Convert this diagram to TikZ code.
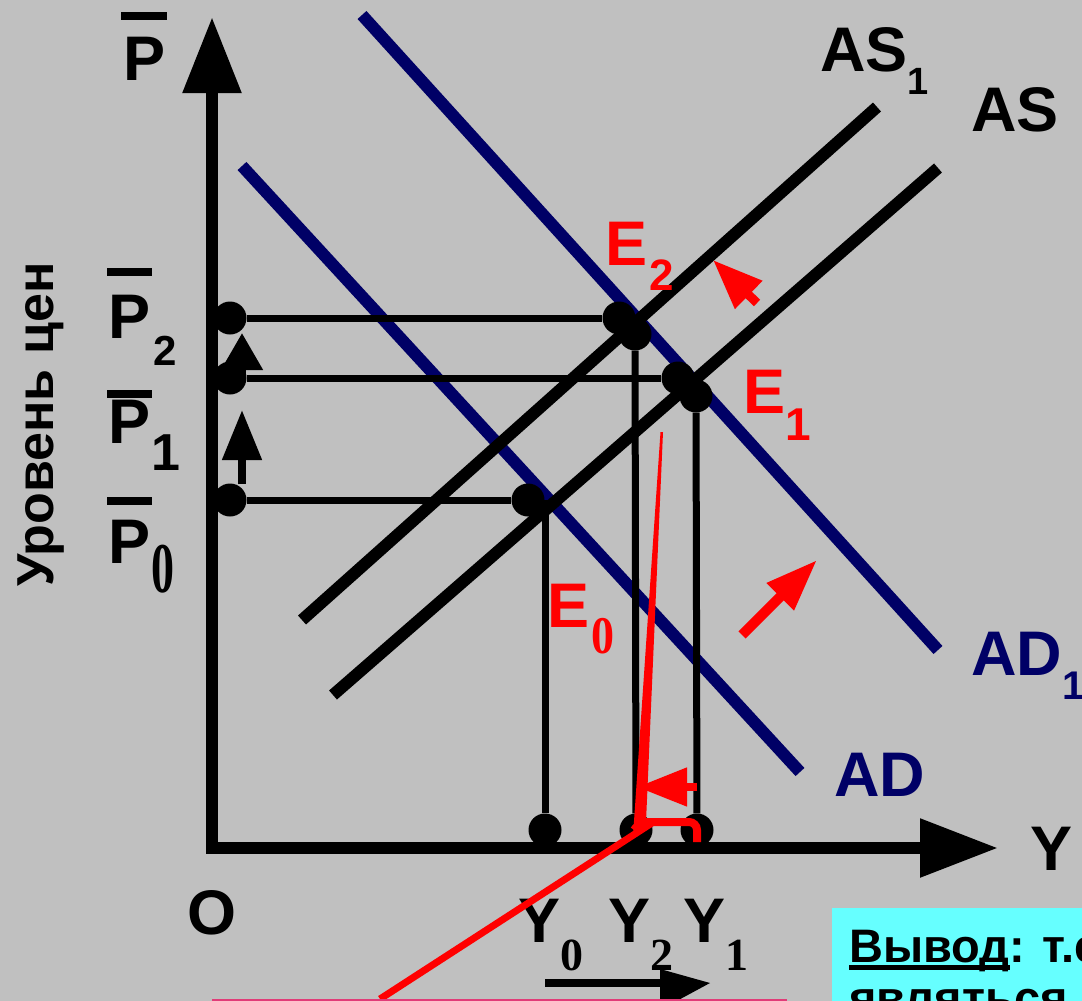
\documentclass[tikz,border=0pt]{standalone}
\usepackage{fontspec}
\setmainfont{Liberation Sans}
\newfontfamily\timesf{Liberation Serif}
\usetikzlibrary{arrows.meta}
\definecolor{bg}{RGB}{192,192,192}
\definecolor{navy}{RGB}{0,0,102}
\definecolor{cyanbox}{RGB}{102,255,255}
\definecolor{pinkline}{RGB}{225,60,120}
% индексы: sans и serif
\newcommand{\sidx}[3][26]{\raisebox{-#1pt}{\fontsize{#2}{#2}\selectfont #3}}
\newcommand{\tidx}[3][1]{\raisebox{-#2pt}{\scalebox{1}[#1]{\timesf\bfseries\fontsize{46}{46}\selectfont #3}}}

\begin{document}
\begin{tikzpicture}[x=1pt,y=-1pt,
  axis/.style={line width=12pt},
  curve/.style={line width=12pt},
  guide/.style={line width=7pt},
  dot/.style={circle,fill=black,inner sep=0pt,minimum size=33pt},
  lbl/.style={inner sep=0pt,anchor=base west,font=\bfseries\fontsize{63}{63}\selectfont},
  boxtxt/.style={inner sep=0pt,anchor=base west,font=\bfseries\fontsize{47}{47}\selectfont},
  redarr/.style={red,line width=9pt,-{Triangle[length=50pt,width=37pt]}},
  pbar/.style={line width=8pt}]
  \useasboundingbox (0,0) rectangle (1082,1001);
  \clip (0,0) rectangle (1082,1001);
  \fill[bg] (0,0) rectangle (1082,1001);

  % вывод (обрезан)
  \fill[cyanbox] (832,908) rectangle (1090,1010);
  \node[boxtxt] (vyvod) at (849,962) {Вывод};
  \node[boxtxt] (vyvodr) at (vyvod.base east) {: т.е.};
  \draw[line width=5pt] ([yshift=-5pt]vyvod.base west) -- ([yshift=-5pt]vyvod.base east);
  \node[boxtxt] (yavl) at (849,1014) {являться};

  % AD и AD1
  \coordinate (ad1a) at (362,15);
  \coordinate (ad1b) at (938,650);
  \coordinate (ada) at (242,166);
  \coordinate (adb) at (800,772);
  \draw[curve,navy] (ad1a) -- (ad1b);
  \draw[curve,navy] (ada) -- (adb);

  % AS и AS1
  \coordinate (as1a) at (302,620);
  \coordinate (as1b) at (877,107);
  \coordinate (asa) at (333,695);
  \coordinate (asb) at (938,168);
  \draw[curve] (as1a) -- (as1b);
  \draw[curve] (asa) -- (asb);

  % оси
  \coordinate (ytip) at (212,17);
  \coordinate (orig) at (212,848);
  \coordinate (xtip) at (998,848);
  \draw[axis,{Triangle[length=76pt,width=56pt]}-{Triangle[length=78pt,width=56pt]}] (ytip) -- (orig) -- (xtip);

  % точки равновесия
  \node[dot] (p2) at (230,318) {};
  \node[dot] (p1) at (230,378) {};
  \node[dot] (p0) at (230,500) {};
  \node[dot] (e2a) at (619,318) {};
  \node[dot] (e2b) at (635,334) {};
  \node[dot] (e1a) at (678,378) {};
  \node[dot] (e1b) at (696,396) {};
  \node[dot] (e0) at (528,500) {};
  \node[dot] (y0) at (545,830) {};
  \node[dot] (y2) at (636,830) {};
  \node[dot] (y1) at (697,830) {};

  \draw[guide] (p2) -- (e2a);
  \draw[guide] (p1) -- (e1a);
  \draw[guide] (p0) -- (e0);
  \draw[guide] (y0) -- (y0 |- e0.center);
  \draw[guide] (e2b) -- (y2);
  \draw[guide] (e1b) -- (y1);

  % рост цен
  \coordinate (up0a) at (242,484);
  \coordinate (up0b) at (242,410);
  \coordinate (up1a) at (242,378);
  \coordinate (up1b) at (242,333);
  \draw[line width=8pt,-{Triangle[length=50pt,width=38pt]}] (up0a) -- (up0b);
  \draw[line width=8pt,-{Triangle[length=37pt,width=40pt]}] (up1a) -- (up1b);

  % подписи
  \node[lbl] (ptop) at (123,80) {P};
  \draw[pbar] (121,16) -- (167,16);
  \node[lbl] (p2lbl) at (108,338) {P\kern3pt\sidx[27]{42}{2}};
  \draw[pbar] (107,272) -- (152,272);
  \node[lbl] (p1lbl) at (108,443) {P\kern1pt\sidx[27]{52}{1}};
  \draw[pbar] (107,394) -- (152,394);
  \node[lbl] (p0lbl) at (108,563) {P\kern1pt\tidx[1.55]{29}{0}};
  \draw[pbar] (107,501) -- (152,501);
  \node[lbl,rotate=90,font=\bfseries\fontsize{52}{52}\selectfont] (ylabel) at (53,587) {Уровень цен};

  \node[lbl] (as1lbl) at (820,71) {AS\sidx[23]{38}{1}};
  \node[lbl] (aslbl) at (971,131) {AS};
  \node[lbl,navy] (ad1lbl) at (971,675) {AD\sidx[24]{40}{1}};
  \node[lbl,navy] (adlbl) at (834,796) {AD};
  \node[lbl,red] (e2lbl) at (605,265) {E\kern2pt\sidx[25]{44}{2}};
  \node[lbl,red] (e1lbl) at (743,413) {E\sidx[27]{46}{1}};
  \node[lbl,red] (e0lbl) at (547,627) {E\kern2pt\tidx[1.15]{26}{0}};

  \node[lbl] (olbl) at (187,934) {O};
  \node[lbl] (ylbl) at (1030,870) {Y};
  \node[lbl] (y0lbl) at (518,942) {Y\tidx{28}{0}};
  \node[lbl] (y2lbl) at (608,942) {Y\tidx{28}{2}};
  \node[lbl] (y1lbl) at (683,942) {Y\tidx{28}{1}};

  % сдвиги кривых
  \coordinate (s1a) at (757,303);
  \coordinate (s1b) at (713,260);
  \coordinate (s2a) at (742,635);
  \coordinate (s2b) at (817,560);
  \coordinate (s3a) at (697,787);
  \coordinate (s3b) at (637,787);
  \draw[redarr] (s1a) -- (s1b);
  \draw[redarr,line width=10pt,-{Triangle[length=52pt,width=36pt]}] (s2a) -- (s2b);
  \draw[redarr,line width=8pt] (s3a) -- (s3b);

  % красная выноска
  \fill[red] (660.5,432) -- (663,432) -- (646,822) -- (633,836) -- cycle;
  \draw[red,line width=8pt,rounded corners=8pt] (634,830) -- (640,822) -- (697,822) -- (697,842);
  \coordinate (ra) at (380,999);
  \coordinate (rb) at (655,821);
  \draw[red,line width=7pt] (ra) -- (rb);

  % стрелка внизу
  \coordinate (ba) at (545,983);
  \coordinate (bb) at (662,983);
  \draw[line width=8pt] (ba) -- (bb);
  \fill (660,969) -- (710,983) -- (660,1010) -- cycle;
  \coordinate (ma) at (212,1000);
  \coordinate (mb) at (787,1000);
  \draw[pinkline,line width=3pt] (ma) -- (mb);
\end{tikzpicture}
\end{document}
